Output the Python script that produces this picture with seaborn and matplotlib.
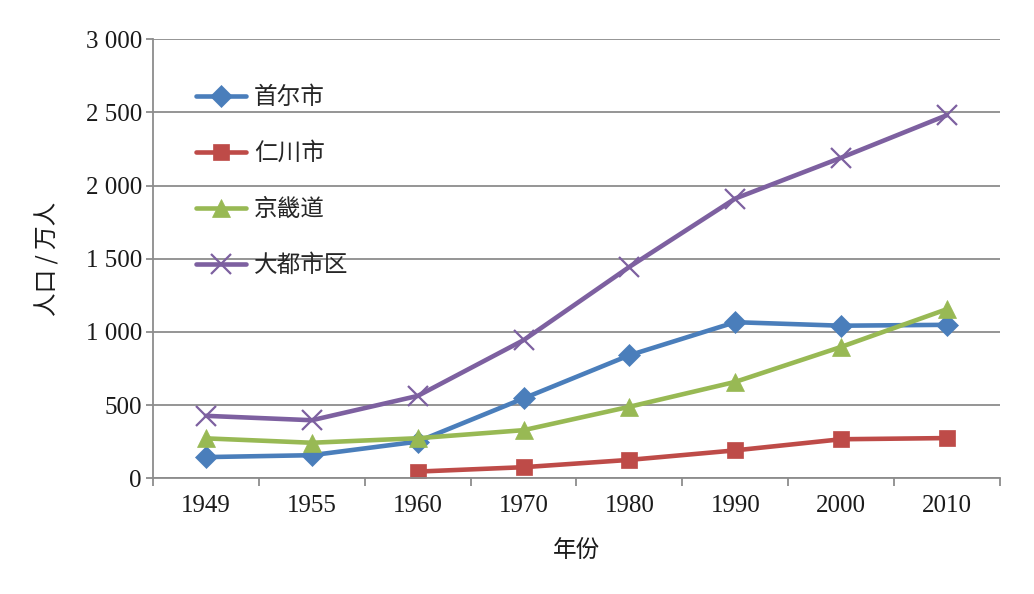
import matplotlib
matplotlib.use("Agg")
import numpy as np
import matplotlib.pyplot as plt
import matplotlib.ticker as mticker
import seaborn as sns

years = ["1949", "1955", "1960", "1970", "1980", "1990", "2000", "2010"]
seoul = [144, 157, 250, 545, 840, 1066, 1042, 1048]
incheon = [None, None, 45, 75, 125, 190, 266, 274]
gyeonggi = [272, 242, 273, 328, 488, 658, 897, 1155]
capital_area = [426, 396, 562, 943, 1444, 1911, 2190, 2481]

series_names = ["首尔市", "仁川市", "京畿道", "大都市区"]
series_values = [seoul, incheon, gyeonggi, capital_area]
colors = ["#4A7EBB", "#BE4B48", "#98B954", "#7D60A0"]
markers = ["D", "s", "^", "x"]
marker_sizes = [11, 12, 13, 14]

cjk = ["Noto Sans CJK SC", "DejaVu Sans"]
serif = ["Liberation Serif", "DejaVu Serif"]


def main():
    sns.set_theme(style="white")
    plt.rcParams["font.family"] = cjk

    fig, ax = plt.subplots(figsize=(10.34, 5.94), dpi=100)
    fig.subplots_adjust(left=0.148, right=0.967, top=0.934, bottom=0.195)

    pos = np.arange(len(years))
    for name, vals, c, m, ms in zip(series_names, series_values, colors, markers, marker_sizes):
        y = np.array([np.nan if v is None else v for v in vals], dtype=float)
        keep = ~np.isnan(y)
        sns.lineplot(x=pos[keep], y=y[keep], ax=ax, color=c, linewidth=3.3,
                     marker=m, markersize=ms, markeredgecolor=c,
                     markeredgewidth=1.6 if m == "x" else 0.5, label=name)

    ax.set_xlim(-0.5, len(years) - 0.5)
    ax.set_ylim(0, 3000)
    ax.set_yticks(range(0, 3001, 500))
    ax.yaxis.set_major_formatter(
        mticker.FuncFormatter(lambda v, p: f"{int(v):,}".replace(",", " "))
    )
    ax.set_xticks(pos)
    ax.set_xticklabels(years)
    ax.set_xticks(np.arange(-0.5, len(years)), minor=True)

    ax.grid(axis="y", color="#8c8c8c", linewidth=1.3)
    ax.grid(axis="x", visible=False)
    for side in ["top", "right"]:
        ax.spines[side].set_visible(False)
    for side in ["left", "bottom"]:
        ax.spines[side].set_color("#8c8c8c")
        ax.spines[side].set_linewidth(1.3)

    ax.tick_params(axis="x", which="major", length=0, pad=12)
    ax.tick_params(axis="x", which="minor", length=6, width=1.3, color="#8c8c8c",
                   direction="out", bottom=True)
    ax.tick_params(axis="y", length=5, width=1.3, color="#8c8c8c", direction="out",
                   left=True, pad=3)
    for lab in ax.get_xticklabels() + ax.get_yticklabels():
        lab.set_family(serif)
        lab.set_fontsize(18)
        lab.set_color("#1a1a1a")

    ax.set_xlabel("年份", fontsize=17, labelpad=16, color="#1a1a1a")
    ax.set_ylabel("人口 / 万人", fontsize=17, labelpad=19, color="#1a1a1a")

    ax.legend(loc="upper left", bbox_to_anchor=(0.04, 0.915), frameon=False,
              fontsize=17, handlelength=2.1, labelspacing=1.4, handletextpad=0.35,
              borderaxespad=0)

    fig.savefig("out.png", dpi=100)


if __name__ == "__main__":
    main()
